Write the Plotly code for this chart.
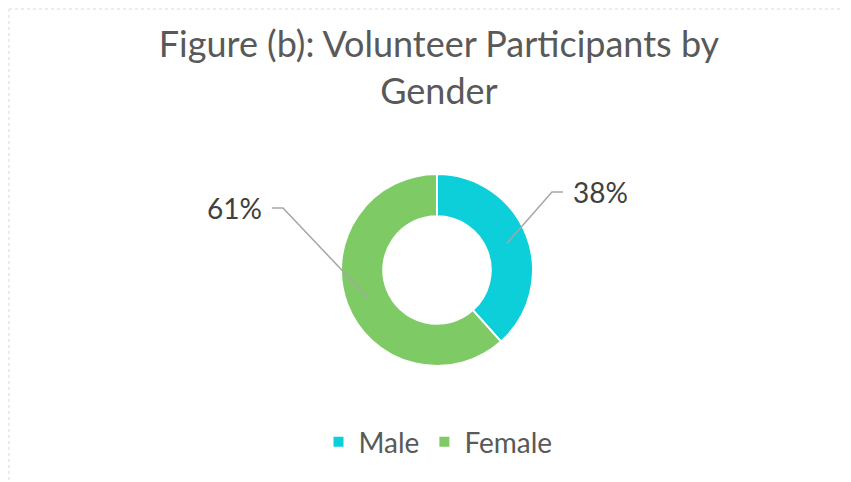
import math
import plotly.graph_objects as go

genders = ["Male", "Female"]
shares = [38, 61]
colors = ["#0CCFDA", "#7ECB66"]

W, H = 851, 482
OX, OY = 8, 8              # page body margin: figure starts 8px in
cx, cy, r = 437, 270, 96   # donut centre / outer radius, page px
hole = 0.56
font = "Lato, 'Open Sans', sans-serif"

# end of each leader line (page px) and side the label text sits on
label_ends = [(563, 192, "left"), (272, 208, "right")]


def to_paper(x, y):
    return (x - OX) / W, 1 - (y - OY) / H


fig = go.Figure(go.Pie(
    labels=genders,
    values=shares,
    hole=hole,
    sort=False,
    direction="clockwise",
    rotation=0,
    textinfo="none",
    hoverinfo="label+percent",
    marker=dict(colors=colors, line=dict(color="white", width=2)),
    domain=dict(x=[to_paper(cx - r, 0)[0], to_paper(cx + r, 0)[0]],
                y=[to_paper(0, cy + r)[1], to_paper(0, cy - r)[1]]),
))

shapes = []
annotations = []
total = sum(shares)
start = 0
for v, (ex, ey, side) in zip(shares, label_ends):
    mid = math.radians((start + v / 2) / total * 360)
    start += v
    rr = r * (1 + hole) / 2
    sx, sy = cx + rr * math.sin(mid), cy - rr * math.cos(mid)
    kx = ex - 11 if side == "left" else ex + 11
    p = [to_paper(sx, sy), to_paper(kx, ey), to_paper(ex, ey)]
    path = "M {} {} L {} {} L {} {}".format(p[0][0], p[0][1], p[1][0], p[1][1], p[2][0], p[2][1])
    shapes.append(dict(type="path", xref="paper", yref="paper", path=path,
                       line=dict(color="#A6A6A6", width=1.5)))
    tx = ex + 8 if side == "left" else ex - 8
    ax, ay = to_paper(tx, ey)
    annotations.append(dict(x=ax, y=ay, xref="paper", yref="paper",
                            text=f"{v}%", showarrow=False, xanchor=side, yanchor="middle",
                            font=dict(family=font, size=28, color="#404040")))

# faint dotted chart-area border (top and left edges)
bx, by = to_paper(9, 9)
shapes.append(dict(type="line", xref="paper", yref="paper", x0=bx, y0=by, x1=1, y1=by,
                   line=dict(color="#D9D9D9", width=1, dash="dot")))
shapes.append(dict(type="line", xref="paper", yref="paper", x0=bx, y0=by, x1=bx, y1=0,
                   line=dict(color="#D9D9D9", width=1, dash="dot")))

tx, ty = to_paper(439, 57)
lx, ly = to_paper(438, 442)

fig.update_layout(
    width=W, height=H,
    autosize=False,
    margin=dict(l=0, r=0, t=0, b=0),
    paper_bgcolor="white",
    plot_bgcolor="white",
    title=dict(text="Figure (b): Volunteer Participants by<br>Gender",
               x=tx, xanchor="center", y=ty, yanchor="top",
               font=dict(family=font, size=36, color="#595959")),
    showlegend=True,
    legend=dict(orientation="h", x=lx, xanchor="center", y=ly, yanchor="middle",
                font=dict(family=font, size=28, color="#595959")),
    shapes=shapes,
    annotations=annotations,
)

fig.write_html("out.html")
